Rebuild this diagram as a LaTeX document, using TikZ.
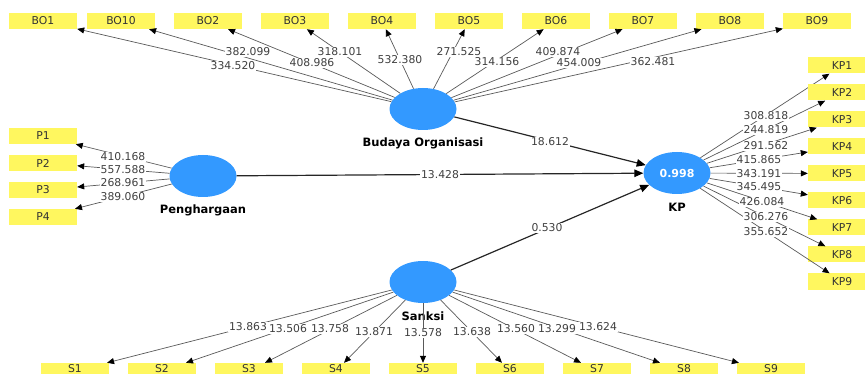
\documentclass[tikz,border=0pt]{standalone}
\usepackage{fontspec}
\setmainfont{DejaVu Sans}
\usetikzlibrary{shapes.geometric,arrows.meta}
\definecolor{lvblue}{RGB}{51,153,255}
\definecolor{indyellow}{RGB}{255,247,95}
\begin{document}
\begin{tikzpicture}[x=1pt,y=-1pt,
 lv/.style={ellipse, fill=lvblue, minimum width=67pt, minimum height=42pt, inner sep=0pt},
 ind/.style={rectangle, fill=indyellow, minimum width=68pt, minimum height=16pt, inner sep=0pt, font=\fontsize{10.8}{11}\selectfont, text=black!80},
 indtext/.style={inner sep=0pt, font=\fontsize{10.8}{11}\selectfont, text=black!80},
 lvname/.style={font=\bfseries\fontsize{11.5}{13}\selectfont},
 load/.style={draw=black!65, line width=0.7pt, -{Triangle[length=7pt,width=6pt,color=black]}},
 pathc/.style={draw=black!85, line width=1.2pt, -{Triangle[length=9pt,width=7.5pt,color=black]}},
 num/.style={fill=white, inner sep=1pt, font=\fontsize{10.8}{12}\selectfont, text=black!75},
]
\useasboundingbox (0,0) rectangle (865,374);
\clip (0,0) rectangle (865,374);

% latent variables
\node[lv] (bud) at (423,109) {};
\node[lv] (pen) at (203,176) {};
\node[lv] (kp) at (677,173) {\color{white}\bfseries\fontsize{11}{12}\selectfont 0.998};
\node[lv] (san) at (423,282) {};
\node[lvname] (budl) at (423,143) {Budaya Organisasi};
\node[lvname] (penl) at (203,210) {Penghargaan};
\node[lvname] (kpl) at (677,207) {KP};
\node[lvname] (sanl) at (423,316) {Sanksi};

% Budaya Organisasi indicators
\foreach \n/\x in {BO1/43,BO10/121,BO2/208,BO3/295,BO4/382,BO5/469,BO6/556,BO7/643,BO8/730,BO9/817}{
  \node[ind] (\n) at (\x,21) {\n};
  \draw[load] (bud) -- (\n);
}
% Penghargaan indicators
\foreach \n/\y in {P1/136,P2/163,P3/190,P4/217}{
  \node[ind] (\n) at (43,\y) {\n};
  \draw[load] (pen) -- (\n);
}
% KP indicators
\foreach \n/\y in {KP1/65.5,KP2/92.5,KP3/119.5,KP4/146.5,KP5/173.5,KP6/200.5,KP7/227.5,KP8/254.5,KP9/281.5}{
  \node[ind] (\n) at (842,\y) {\n};
  \draw[load] (kp) -- (\n);
}
% Sanksi indicators (boxes run off the bottom edge)
\foreach \n/\x in {S1/75,S2/162,S3/249,S4/336,S5/423,S6/510,S7/597,S8/684,S9/771}{
  \node[ind] (\n) at (\x,371) {};
  \node[indtext] (\n-t) at (\x,368.3) {\n};
  \draw[load] (san) -- (\n);
}

% structural paths
\draw[pathc] (bud) -- (kp);
\draw[pathc] (pen) -- (kp);
\draw[pathc] (san) -- (kp);

% loadings
\foreach \t/\x/\y in {334.520/233/66,382.099/248/52,408.986/312/63,318.101/340/52,532.380/400/60,
  271.525/459/52,314.156/497/62,409.874/558/52,454.009/579/63,362.481/653/62,
  410.168/123/157,557.588/123/170,268.961/123/183,389.060/123/197,
  308.818/766/116,244.819/766/130,291.562/766/146,415.865/759/160,343.191/759/174,
  345.495/759/187,426.084/762/202,306.276/766/217,355.652/766/232,
  13.863/248/327,13.506/288/329,13.758/330/329,13.871/374/332,13.578/423/333,
  13.638/472/332,13.560/516/329,13.299/557/329,13.624/598/327,
  18.612/550/142,13.428/440/175,0.530/547/228}{
  \node[num] at (\x,\y) {\t};
}
\end{tikzpicture}
\end{document}
